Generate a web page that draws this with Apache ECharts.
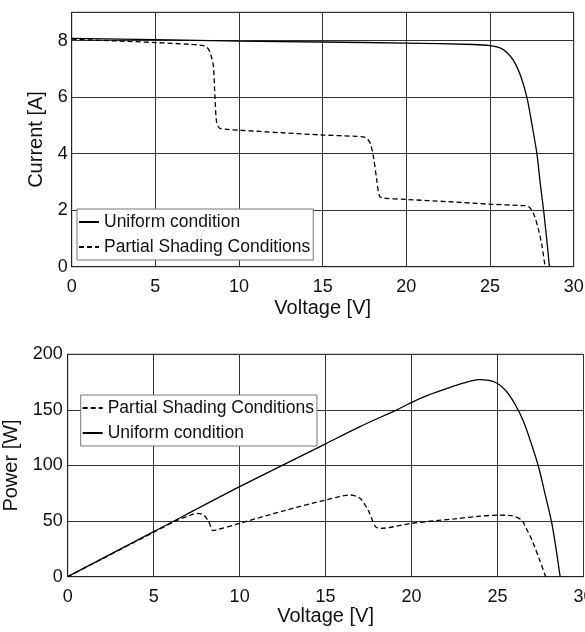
<!DOCTYPE html>
<html>
<head>
<meta charset="UTF-8">
<title>PV curves</title>
<style>
  html, body { margin: 0; padding: 0; background: #fff; }
  #main { width: 585px; height: 632px; }
</style>
</head>
<body>
<div id="main"></div>
<script src="https://cdn.jsdelivr.net/npm/echarts@6/dist/echarts.min.js"></script>
<script>
// I-V curves (top)
var ivUniformV = [0, 5, 10, 15, 20, 24, 25, 25.6, 26.0, 26.4, 26.8, 27.2, 27.5, 27.8, 28.0, 28.2, 28.4, 28.55];
var ivUniformI = [8.08, 8.03, 7.98, 7.95, 7.91, 7.86, 7.82, 7.74, 7.58, 7.3, 6.8, 6.0, 5.05, 4.0, 2.95, 2.0, 0.9, 0];
var ivShadeV = [0, 2.5, 5, 7, 7.8, 8.05, 8.2, 8.35, 8.47, 8.56, 8.67, 8.85, 9.3, 10, 12.5, 15, 17, 17.5, 17.7, 17.85, 18.03, 18.23, 18.39, 18.6, 20, 22.5, 25, 27, 27.3, 27.6, 27.9, 28.1, 28.29];
var ivShadeI = [8.05, 7.99, 7.93, 7.87, 7.83, 7.77, 7.67, 7.42, 7.08, 6.02, 5.07, 4.9, 4.86, 4.83, 4.74, 4.66, 4.61, 4.58, 4.5, 4.35, 3.9, 3.07, 2.5, 2.43, 2.38, 2.3, 2.21, 2.16, 2.13, 1.88, 1.3, 0.75, 0];

// P-V curves (bottom)
var pvUniformV = [0, 5, 10, 15, 17, 19.2, 20.1, 21, 22.1, 23, 23.9, 24.5, 25, 25.5, 26.0, 26.5, 27.0, 27.4, 27.8, 28.14, 28.4, 28.64];
var pvUniformP = [0, 40.5, 81, 119.5, 135, 150.5, 157.5, 163.5, 169.5, 174, 177.3, 176.5, 173.8, 167, 155.5, 140, 118, 98, 72, 49.5, 25.5, 0];
var pvShadeV = [0, 5, 6.2, 7.0, 7.5, 7.9, 8.2, 8.45, 8.6, 10, 12.5, 15, 15.8, 16.4, 17.0, 17.5, 17.9, 18.2, 20, 22.5, 24, 25, 25.8, 26.4, 26.65, 27.0, 27.45, 27.8];
var pvShadeP = [0, 40, 49.5, 54.5, 57, 55.5, 49.5, 41.5, 41.8, 48, 59, 69, 72, 73.5, 70.5, 59, 45, 43.5, 48, 52, 54.5, 55.3, 54.9, 51, 44, 33, 15, 0];

var xTicks = [0, 5, 10, 15, 20, 25, 30];
var iTicks = [0, 2, 4, 6, 8];
var pTicks = [0, 50, 100, 150, 200];

var nameUniform = 'Uniform condition';
var nameShade = 'Partial Shading Conditions';

function pairs(xs, ys) {
  return xs.map(function (x, i) { return [x, ys[i]]; });
}

var font = 'Liberation Sans, Arial, sans-serif';
var gridLine = { show: true, lineStyle: { color: '#333', width: 1 } };

function xAxisOf(gridIndex, gap) {
  return {
    type: 'value', gridIndex: gridIndex, min: 0, max: 30, interval: 5,
    name: 'Voltage [V]', nameLocation: 'middle', nameGap: gap,
    nameTextStyle: { fontFamily: font, fontSize: 20, color: '#111' },
    axisLine: { show: true, onZero: false, lineStyle: { color: '#222' } },
    axisTick: { show: false },
    axisLabel: {
      fontFamily: font, fontSize: 18, color: '#111', margin: 11,
      formatter: function (v) { return xTicks.indexOf(v) >= 0 ? String(v) : ''; }
    },
    splitLine: gridLine
  };
}

function legendOf(names, left, top) {
  return {
    data: names,
    orient: 'vertical', left: left, top: top,
    itemWidth: 20, itemHeight: 10, itemGap: 3,
    padding: [2, 3, 2, 1],
    selectedMode: false,
    itemStyle: { opacity: 0 },
    backgroundColor: '#fff', borderColor: '#777', borderWidth: 1, borderRadius: 0,
    textStyle: { fontFamily: font, fontSize: 17.5, color: '#111', lineHeight: 22 }
  };
}

function lineOf(name, axis, xs, ys, dashed) {
  return {
    name: name, type: 'line', xAxisIndex: axis, yAxisIndex: axis,
    data: pairs(xs, ys),
    symbol: 'none', smooth: 0.3,
    lineStyle: { color: '#000', width: 1.3, type: dashed ? [5, 3] : 'solid' },
    itemStyle: { color: '#000' }
  };
}

var myChart = echarts.init(document.getElementById('main'));

myChart.setOption({
  animation: false,
  backgroundColor: '#fff',
  grid: [
    { left: 71.7, right: 11.3, top: 12.3, bottom: 365.3, show: true, borderColor: '#222', borderWidth: 1, outerBoundsMode: 'none', containLabel: false },
    { left: 67.7, right: 1.5, top: 354.3, bottom: 55.3, show: true, borderColor: '#222', borderWidth: 1, outerBoundsMode: 'none', containLabel: false }
  ],
  xAxis: [xAxisOf(0, 32), xAxisOf(1, 22)],
  yAxis: [
    {
      type: 'value', gridIndex: 0, min: 0, max: 9, interval: 2,
      name: 'Current [A]', nameLocation: 'middle', nameGap: 16,
      nameTextStyle: { fontFamily: font, fontSize: 20, color: '#111' },
      axisLine: { show: true, lineStyle: { color: '#222' } },
      axisTick: { show: false },
      axisLabel: {
        fontFamily: font, fontSize: 18, color: '#111', margin: 4,
        formatter: function (v) { return iTicks.indexOf(v) >= 0 ? String(v) : ''; }
      },
      splitLine: gridLine
    },
    {
      type: 'value', gridIndex: 1, min: 0, max: 200, interval: 50,
      name: 'Power [W]', nameLocation: 'middle', nameGap: 38,
      nameTextStyle: { fontFamily: font, fontSize: 20, color: '#111' },
      axisLine: { show: true, lineStyle: { color: '#222' } },
      axisTick: { show: false },
      axisLabel: {
        fontFamily: font, fontSize: 18, color: '#111', margin: 5,
        formatter: function (v) { return pTicks.indexOf(v) >= 0 ? String(v) : ''; }
      },
      splitLine: gridLine
    }
  ],
  legend: [
    legendOf([nameUniform, nameShade], 77, 209),
    legendOf([nameShade, nameUniform], 80.7, 395)
  ],
  series: [
    lineOf(nameUniform, 0, ivUniformV, ivUniformI, false),
    lineOf(nameShade, 0, ivShadeV, ivShadeI, true),
    lineOf(nameShade, 1, pvShadeV, pvShadeP, true),
    lineOf(nameUniform, 1, pvUniformV, pvUniformP, false)
  ]
});
</script>
</body>
</html>
